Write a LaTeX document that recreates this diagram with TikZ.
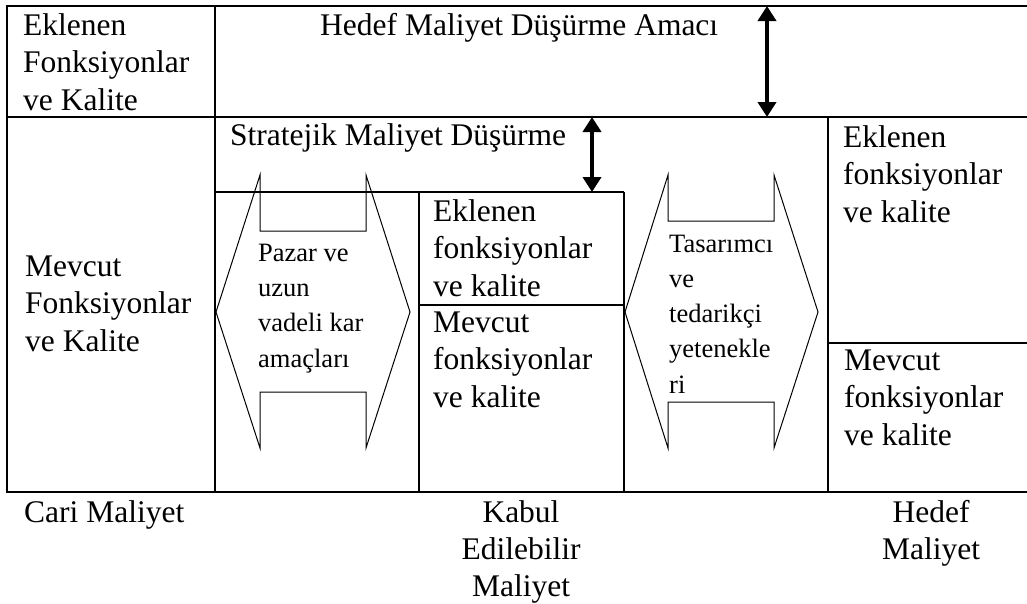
\documentclass[tikz,border=0pt]{standalone}
\usepackage{fontspec}
\setmainfont{Liberation Serif}
\usetikzlibrary{arrows.meta}

\begin{document}
\begin{tikzpicture}[x=1pt,y=-1pt,
  frame/.style={line width=1.5pt},
  bigarrow/.style={line width=4pt,{Triangle[length=15pt,width=18pt]}-{Triangle[length=15pt,width=18pt]}},
  flowshape/.style={line width=1pt, line join=miter},
  % multi-line labels are placed by the baseline of their last line
  label/.style={inner sep=0pt, align=left, anchor=base west,
    font=\fontsize{31.5}{37.5}\selectfont},
  smalllabel/.style={inner sep=0pt, align=left, anchor=base west,
    font=\fontsize{26.5}{35.2}\selectfont},
  costlabel/.style={inner sep=0pt, align=center, anchor=base,
    font=\fontsize{31.5}{37}\selectfont}]

% page area
\useasboundingbox (0,0) rectangle (1027,603);

% table frame
\draw[frame] (1027,6) -- (7,6) -- (7,492) -- (1027,492);
\draw[frame] (7,117) -- (1027,117);
\draw[frame] (215,6) -- (215,492);
\draw[frame] (215,192) -- (624,192);
\draw[frame] (419,192) -- (419,492);
\draw[frame] (624,192) -- (624,492);
\draw[frame] (419,305) -- (624,305);
\draw[frame] (828,117) -- (828,492);
\draw[frame] (828,343) -- (1027,343);

% cost reduction arrows
\coordinate (goalTop) at (767,6);
\coordinate (goalBot) at (767,117);
\coordinate (stratTop) at (592,117);
\coordinate (stratBot) at (592,192);
\draw[bigarrow] (goalTop) -- (goalBot);
\draw[bigarrow] (stratTop) -- (stratBot);

% two-way block arrows
\draw[flowshape] (216,312) -- (260,175) -- (260,231) -- (366,231) -- (366,175)
  -- (410,312) -- (366,448) -- (366,392) -- (260,392) -- (260,448) -- cycle;
\draw[flowshape] (625,312) -- (668,175) -- (668,221) -- (774,221) -- (774,175)
  -- (818,312) -- (774,448) -- (774,402) -- (668,402) -- (668,448) -- cycle;

% cell texts
\node[label] (addTL) at (23,110) {Eklenen\\Fonksiyonlar\\ve Kalite};
\node[label] (goal) at (320,35) {Hedef Maliyet Düşürme Amacı};
\node[label] (strat) at (230,145) {Stratejik Maliyet Düşürme};
\node[label] (curL) at (25,351) {Mevcut\\Fonksiyonlar\\ve Kalite};
\node[label] (addM) at (433,296) {Eklenen\\fonksiyonlar\\ve kalite};
\node[label] (curM) at (433,407) {Mevcut\\fonksiyonlar\\ve kalite};
\node[label] (addR) at (843,222) {Eklenen\\fonksiyonlar\\ve kalite};
\node[label] (curR) at (844,445) {Mevcut\\fonksiyonlar\\ve kalite};
\node[smalllabel] (market) at (258,367) {Pazar ve\\uzun\\vadeli kar\\amaçları};
\node[smalllabel] (design) at (669,393) {Tasarımcı\\ve\\tedarikçi\\yetenekle\\ri};

% cost levels
\node[label] (cari) at (24,522) {Cari Maliyet};
\node[costlabel] (kabul) at (521,596) {Kabul\\Edilebilir\\Maliyet};
\node[costlabel] (hedef) at (931,559) {Hedef\\Maliyet};
\end{tikzpicture}
\end{document}
